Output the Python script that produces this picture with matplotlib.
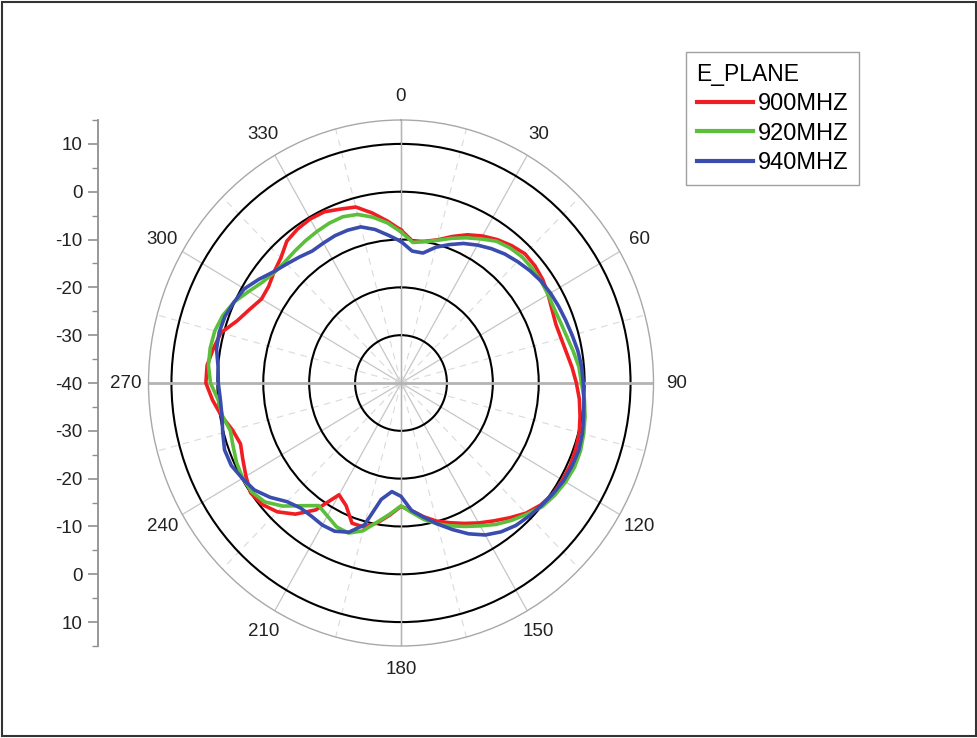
import numpy as np
import matplotlib

matplotlib.use("Agg")
import matplotlib.pyplot as plt
from matplotlib.patches import Rectangle

plt.rcParams["font.family"] = ["Liberation Sans", "DejaVu Sans"]

# angle (deg, clockwise from top) and gain (dB)
angle_deg = list(range(0, 360, 5))
gain_900 = [
	-8.0, -10.3, -9.9, -9.0, -7.4, -5.8, -4.5, -3.4, -2.5, -1.8, -1.9, -2.3,
	-3.0, -3.7, -4.1, -3.9, -3.4, -2.6, -1.8, -1.0, -0.4, 0.2, 0.5, 0.7,
	0.6, 0.4, -0.3, -1.5, -3.2, -4.8, -6.2, -7.6, -8.9, -10.1, -11.6, -13.2,
	-14.2, -12.3, -10.3, -8.8, -8.8, -11.7, -13.0, -7.6, -4.2, -1.9, -0.5, 0.0,
	-1.0, -2.0, -2.8, -2.0, -0.3, 1.2, 2.5, 2.4, 1.5, 0.6, -2.0, -3.6,
	-4.9, -4.8, -3.9, -3.0, -1.3, -0.7, -0.4, -0.5, -1.3, -1.9, -3.9, -6.0,
]
gain_920 = [
	-8.4, -10.5, -10.0, -9.1, -7.8, -6.5, -5.2, -3.8, -3.1, -2.7, -2.7, -2.8,
	-3.0, -3.2, -3.0, -2.6, -1.9, -1.1, -0.7, 0.1, 0.7, 1.2, 1.6, 1.7,
	1.4, 0.9, 0.2, -1.2, -2.5, -3.9, -5.5, -6.9, -8.2, -9.5, -11.0, -12.8,
	-14.3, -12.5, -10.5, -8.0, -6.6, -6.8, -7.9, -8.7, -6.5, -3.6, -1.3, -0.3,
	-0.2, -0.5, -1.1, -1.5, -0.5, 0.0, 1.5, 2.1, 2.2, 2.0, 1.3, 0.1,
	-1.7, -3.2, -4.0, -4.2, -4.0, -3.7, -3.4, -3.1, -3.0, -3.5, -4.8, -6.4,
]
gain_940 = [
	-10.4, -12.3, -12.4, -10.6, -9.2, -7.8, -6.7, -5.7, -4.8, -4.1, -3.4, -2.8,
	-2.4, -2.1, -1.8, -1.4, -0.9, -0.5, -0.3, 0.0, 0.4, 0.9, 1.2, 1.1,
	0.9, 0.4, -0.1, -0.6, -1.1, -2.0, -3.3, -5.2, -7.4, -9.5, -11.5, -13.2,
	-16.3, -17.2, -15.3, -9.3, -6.8, -5.8, -5.7, -6.0, -5.9, -4.9, -2.8, -1.0,
	-0.1, 0.8, 0.9, 0.2, -0.4, -0.5, -0.2, 0.0, 0.8, 1.0, 0.8, 0.1,
	-0.6, -2.2, -3.8, -4.8, -5.6, -6.3, -6.2, -6.0, -6.0, -6.2, -7.4, -9.0,
]
series_labels = ["900MHZ", "920MHZ", "940MHZ"]
series_colors = ["#f01e23", "#5cbf3c", "#3a4cae"]
legend_title = "E_PLANE"

theta_labels = list(range(0, 360, 30))
ring_levels = [-30, -20, -10, 0, 10]
r_min, r_max = -40, 15
# left scale is mirrored around the centre (-40)
scale_pos = list(range(-50, 51, 10))
scale_labels = [str(-40 + abs(p)) for p in scale_pos]

W, H = 978, 738
fig = plt.figure(figsize=(W / 100, H / 100), dpi=100)

# polar axes, slightly squashed horizontally like the scanned original
ax = fig.add_axes([148.5 / W, (H - 646) / H, 505 / W, 526 / H], projection="polar")
ax.set_aspect("auto")
ax.set_theta_zero_location("N")
ax.set_theta_direction(-1)
ax.set_rlim(r_min, r_max)
ax.set_axisbelow(True)

ax.set_yticks(ring_levels)
ax.set_yticklabels([])
ax.yaxis.grid(True, color="black", lw=1.5)
ax.tick_params(axis="y", length=0)

ax.set_xticks(np.deg2rad(theta_labels))
ax.set_xticks(np.deg2rad(np.arange(15, 360, 30)), minor=True)
ax.set_xticklabels([])
ax.xaxis.grid(True, which="major", color="#c6c6c6", lw=0.9)
ax.xaxis.grid(True, which="minor", color="#dadada", lw=0.8, ls=(0, (6, 5)))
ax.tick_params(axis="x", which="both", direction="in", length=7, color="#a8a8a8")
ax.spines["polar"].set_color("#a8a8a8")
ax.spines["polar"].set_linewidth(1.0)

for a, lw in [(0, 1.0), (180, 1.0), (90, 2.0), (270, 2.0)]:
	ax.plot(np.deg2rad([a, a]), [r_min, r_max], color="#b4b4b4", lw=lw, zorder=1)

for a in theta_labels:
	ax.text(np.deg2rad(a), 20, str(a), ha="center", va="center",
			fontsize=13.5, color="#222222", clip_on=False)

theta = np.deg2rad(angle_deg + [360])
handles = []
for gains, label, color in zip([gain_900, gain_920, gain_940], series_labels, series_colors):
	line, = ax.plot(theta, gains + gains[:1], color=color, lw=2.6, label=label, zorder=5)
	handles.append(line)

# left mirrored radial scale
ax_r = fig.add_axes([98 / W, (H - 646) / H, 0.0005, 526 / H])
ax_r.set_ylim(-55, 55)
ax_r.set_xticks([])
ax_r.set_yticks(scale_pos)
ax_r.set_yticklabels(scale_labels)
ax_r.set_yticks(list(range(-55, 56, 10)), minor=True)
for side in ["top", "right", "bottom"]:
	ax_r.spines[side].set_visible(False)
ax_r.spines["left"].set_color("#909090")
ax_r.spines["left"].set_linewidth(1.3)
ax_r.tick_params(axis="y", which="major", length=7, width=1.2, color="#909090",
				 labelsize=13.5, labelcolor="#222222", pad=4)
ax_r.tick_params(axis="y", which="minor", length=4, width=1.0, color="#909090")
ax_r.patch.set_visible(False)

leg = fig.legend(handles=handles, title=legend_title, loc="upper left",
				 bbox_to_anchor=(686 / W, 1 - 52 / H), bbox_transform=fig.transFigure,
				 borderaxespad=0, fontsize=17, title_fontsize=16.5,
				 handlelength=2.4, handletextpad=0.2, labelspacing=0.32,
				 borderpad=0.45, fancybox=False, alignment="left")
leg.get_frame().set_edgecolor("#888888")
leg.get_frame().set_linewidth(1.0)
for lh in leg.get_lines():
	lh.set_linewidth(3.0)

fig.add_artist(Rectangle((2 / W, 2 / H), 1 - 4 / W, 1 - 4 / H, transform=fig.transFigure,
						 fill=False, ec="#333333", lw=1.5))

fig.savefig("out.png", dpi=100)
